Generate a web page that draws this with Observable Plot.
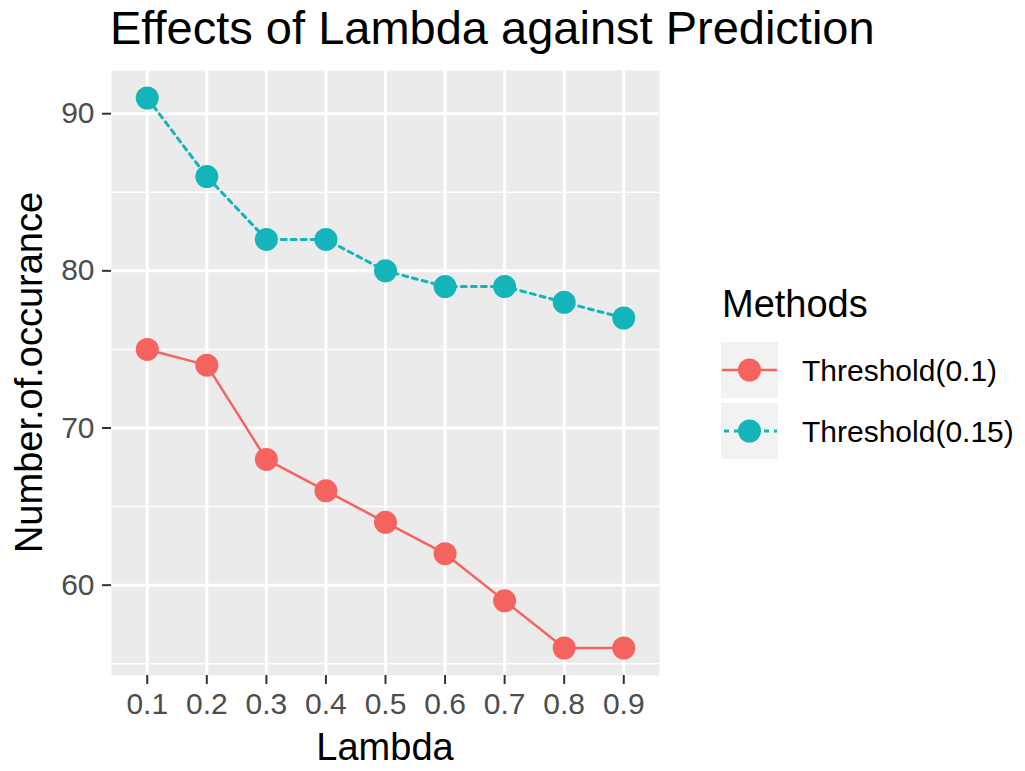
<!DOCTYPE html>
<html><head><meta charset="utf-8">
<script src="https://cdn.jsdelivr.net/npm/d3@7"></script>
<script src="https://cdn.jsdelivr.net/npm/@observablehq/plot@0.6"></script>
<style>body{margin:0;background:#fff} #chart{width:1025px;height:771px}</style>
</head><body><div id="chart"></div>
<script>
const lambdas = ["0.1","0.2","0.3","0.4","0.5","0.6","0.7","0.8","0.9"];
const threshold01 = [75,74,68,66,64,62,59,56,56];
const threshold015 = [91,86,82,82,80,79,79,78,77];
const methods = ["Threshold(0.1)","Threshold(0.15)"];
const colors = ["#F5635F","#14B5BA"];
const yMajor = [60,70,80,90];
const yMinor = [55,65,75,85];
const titleText = "Effects of Lambda against Prediction";
const xLabel = "Lambda";
const yLabel = "Number.of.occurance";
const legendTitle = "Methods";

const rows01 = lambdas.map((l,i)=>({lambda:l, value:threshold01[i], method:methods[0]}));
const rows015 = lambdas.map((l,i)=>({lambda:l, value:threshold015[i], method:methods[1]}));
const data = rows01.concat(rows015);

const font = "'Liberation Sans', Arial, Helvetica, sans-serif";

const plot = Plot.plot({
  width:1025, height:771,
  marginLeft:111, marginRight:366, marginTop:70, marginBottom:96,
  style:{fontFamily:font, background:"#fff", overflow:"visible"},
  x:{type:"point", domain:lambdas, padding:0.6, round:false},
  y:{domain:[54.25,92.75]},
  color:{domain:methods, range:colors},
  marks:[
    Plot.frame({fill:"#EBEBEB", stroke:"none"}),
    Plot.gridY(yMinor,{stroke:"#fff", strokeOpacity:1, strokeWidth:1.5}),
    Plot.gridY(yMajor,{stroke:"#fff", strokeOpacity:1, strokeWidth:3}),
    Plot.gridX(lambdas,{stroke:"#fff", strokeOpacity:1, strokeWidth:3}),
    Plot.axisX(lambdas,{tickSize:9, tickPadding:8, fontSize:30, fill:"#4D4D4D", stroke:"#333", strokeWidth:2, label:null}),
    Plot.axisY(yMajor,{tickSize:9, tickPadding:8, fontSize:30, fill:"#4D4D4D", stroke:"#333", strokeWidth:2, label:null}),
    Plot.line(rows01,{x:"lambda", y:"value", stroke:colors[0], strokeWidth:2.5}),
    Plot.line(rows015,{x:"lambda", y:"value", stroke:colors[1], strokeWidth:3, strokeDasharray:"5,5"}),
    Plot.dot(data,{x:"lambda", y:"value", fill:"method", r:11.5})
  ]
});
document.getElementById("chart").appendChild(plot);

const svg = d3.select(plot);
svg.append("text").attr("x",110).attr("y",44).attr("text-anchor","start").attr("font-size",47).attr("fill","#000").attr("font-family",font).text(titleText);
svg.append("text").attr("x",385).attr("y",760).attr("text-anchor","middle").attr("font-size",38).attr("fill","#000").attr("font-family",font).text(xLabel);
svg.append("text").attr("transform","translate(42,372.5) rotate(-90)").attr("text-anchor","middle").attr("font-size",38).attr("fill","#000").attr("font-family",font).text(yLabel);

// legend
const lg = svg.append("g").attr("font-family",font).attr("text-anchor","start");
lg.append("text").attr("x",722).attr("y",317).attr("font-size",38).attr("fill","#000").text(legendTitle);
methods.forEach((m,i)=>{
  const y0 = 342 + i*61;
  const cy = y0 + 28;
  lg.append("rect").attr("x",721).attr("y",y0).attr("width",57).attr("height",56).attr("fill","#F2F2F2");
  const ln = lg.append("line").attr("x1",722).attr("x2",777).attr("y1",cy).attr("y2",cy).attr("stroke",colors[i]).attr("stroke-width",i===1?3:2.5);
  if(i===1) ln.attr("stroke-dasharray","5,5").attr("stroke-dashoffset",-2);
  lg.append("circle").attr("cx",749.5).attr("cy",cy).attr("r",11.5).attr("fill",colors[i]);
  lg.append("text").attr("x",802).attr("y",cy).attr("dy","0.35em").attr("font-size",30).attr("fill","#000").text(m);
});
</script></body></html>
